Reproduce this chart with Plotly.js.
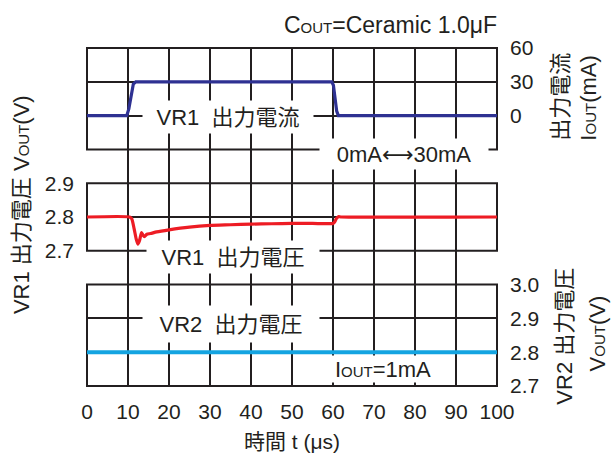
<!DOCTYPE html>
<html>
<head>
<meta charset="utf-8">
<script src="https://cdn.plot.ly/plotly-3.0.1.min.js"></script>
<style>html,body{margin:0;padding:0;background:#fff;}#chart{width:615px;height:455px;}</style>
</head>
<body>
<div id="chart"></div>
<script>
// ---- data ----
const timeI = [0, 9.7, 10.2, 10.8, 11.3, 11.9, 59.7, 60.1, 60.5, 60.9, 61.3, 100];
const iout  = [0, 0, 6, 20, 28, 30, 30, 27, 15, 4, 0, 0];

const timeV1 = [0, 10.4, 10.9, 11.5, 12.0, 12.4, 12.8, 13.3, 13.7, 14.0, 14.6, 15.5, 17, 20, 25, 30, 35, 40, 45, 50, 55, 60, 60.4, 60.8, 61.3, 62, 100];
const vr1    = [2.8, 2.8, 2.795, 2.765, 2.735, 2.72, 2.73, 2.754, 2.745, 2.742, 2.749, 2.751, 2.756, 2.762, 2.77, 2.775, 2.777, 2.779, 2.78, 2.781, 2.781, 2.781, 2.785, 2.795, 2.801, 2.8, 2.8];

const timeV2 = [0, 25, 50, 75, 100];
const vr2    = [2.8, 2.8, 2.8, 2.8, 2.8];

const xTicks = [0, 10, 20, 30, 40, 50, 60, 70, 80, 90, 100];
const gridX  = [10, 20, 30, 40, 50, 60, 70, 80, 90];
const iTicks = [0, 30, 60];
const v1Ticks = [2.7, 2.8, 2.9];
const v2Ticks = [2.7, 2.8, 2.9, 3.0];
const v2TickText = ['2.7', '2.8', '2.9', '3.0'];

// ---- styles ----
const FONT = 'Liberation Sans, Arial, Noto Sans CJK JP, sans-serif';
const INK = '#231f20';
const GRIDW = 2;

const traces = [
  {x: timeI, y: iout, yaxis: 'y', mode: 'lines', line: {color: '#2e3192', width: 3.2}, hoverinfo: 'skip'},
  {x: timeV1, y: vr1, yaxis: 'y2', mode: 'lines', line: {color: '#ed1c24', width: 3.2, shape: 'spline', smoothing: 0.6}, hoverinfo: 'skip'},
  {x: timeV2, y: vr2, yaxis: 'y3', mode: 'lines', line: {color: '#14a4e1', width: 4}, hoverinfo: 'skip'}
];

const shapes = [];
gridX.forEach(function (v) {
  shapes.push({type: 'line', xref: 'x', yref: 'paper', x0: v, x1: v, y0: 0, y1: 1, layer: 'below', line: {color: INK, width: GRIDW}});
});
['y domain', 'y2 domain', 'y3 domain'].forEach(function (r) {
  shapes.push({type: 'rect', xref: 'paper', yref: r, x0: 0, x1: 1, y0: 0, y1: 1, layer: 'below', line: {color: INK, width: GRIDW}});
});

const box = {bgcolor: '#ffffff', borderpad: 1, showarrow: false, xanchor: 'center', yanchor: 'middle', font: {family: FONT, size: 22, color: INK}};
const sm = function (t) { return '<span style="font-size:15px">' + t + '</span>'; };
const arrow = '<span style="font-family:DejaVu Sans">⟷</span>';
const ttl = {xref: 'paper', yref: 'paper', textangle: -90, showarrow: false, xanchor: 'center', yanchor: 'middle', font: {family: FONT, size: 22, color: INK}};

const annotations = [
  Object.assign({}, box, {text: 'VR1  出力電流', xref: 'x', yref: 'y', x: 34.4, y: 0, yshift: -1, width: 168, height: 30}),
  Object.assign({}, box, {text: '0mA' + arrow + '30mA', xref: 'x', yref: 'y', x: 77.3, y: -30, yshift: -5, width: 166, height: 28}),
  Object.assign({}, box, {text: 'VR1  出力電圧', xref: 'x', yref: 'y2', x: 35.7, y: 2.7, yshift: -6, width: 170, height: 30}),
  Object.assign({}, box, {text: 'VR2  出力電圧', xref: 'x', yref: 'y3', x: 35.2, y: 2.9, yshift: -6, width: 174, height: 34}),
  Object.assign({}, box, {text: 'I' + sm('OUT') + '=1mA', xref: 'x', yref: 'y3', x: 72.2, y: 2.75, width: 104, height: 24}),
  // axis titles
  Object.assign({}, ttl, {text: '出力電流', x: 1.153, y: 0.855}),
  Object.assign({}, ttl, {text: 'I' + sm('OUT') + '(mA)', x: 1.221, y: 0.852}),
  Object.assign({}, ttl, {text: 'VR1 出力電圧 V' + sm('OUT') + '(V)', x: -0.158, y: 0.536}),
  Object.assign({}, ttl, {text: 'VR2 出力電圧', x: 1.165, y: 0.148}),
  Object.assign({}, ttl, {text: 'V' + sm('OUT') + '(V)', x: 1.245, y: 0.157})
];

const yCommon = {showgrid: true, gridcolor: INK, gridwidth: GRIDW, zeroline: false, showline: false, ticks: '', tickfont: {family: FONT, size: 21, color: INK}, fixedrange: true, anchor: 'x', ticklabelstandoff: 12};

const layout = {
  width: 615, height: 455,
  margin: {l: 87, r: 118, t: 48, b: 69},
  paper_bgcolor: '#ffffff', plot_bgcolor: 'rgba(0,0,0,0)',
  showlegend: false,
  font: {family: FONT, color: INK},
  title: {text: 'C' + sm('OUT') + '=Ceramic 1.0μF', xref: 'paper', x: 1, xanchor: 'right', yref: 'container', y: 0.945, yanchor: 'middle', font: {family: FONT, size: 23, color: INK}},
  xaxis: {range: [0, 100], tickvals: xTicks, showgrid: false, zeroline: false, showline: false, ticks: '', anchor: 'y3',
          tickfont: {family: FONT, size: 21, color: INK}, ticklabelstandoff: 11,
          title: {text: '時間 t (μs)', font: {family: FONT, size: 21, color: INK}, standoff: 12}},
  yaxis: Object.assign({}, yCommon, {domain: [0.7, 1], range: [-30, 60], tickvals: iTicks, side: 'right'}),
  yaxis2: Object.assign({}, yCommon, {domain: [0.4, 0.6], range: [2.7, 2.9], tickvals: v1Ticks, side: 'left'}),
  yaxis3: Object.assign({}, yCommon, {domain: [0, 0.3], range: [2.7, 3.0], tickvals: v2Ticks, ticktext: v2TickText, side: 'right'}),
  shapes: shapes,
  annotations: annotations
};

Plotly.newPlot('chart', traces, layout, {staticPlot: true, displayModeBar: false});
</script>
</body>
</html>
